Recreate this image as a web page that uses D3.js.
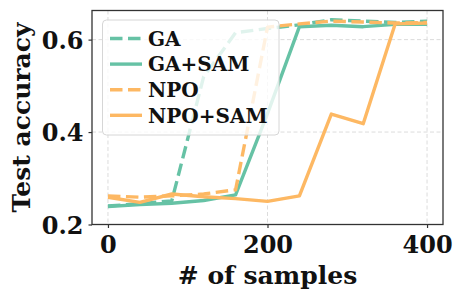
<!DOCTYPE html>
<html>
<head>
<meta charset="utf-8">
<script src="https://cdn.jsdelivr.net/npm/d3@7"></script>
<style>
  body { margin: 0; background: #fff; }
  text { font-family: "DejaVu Serif", serif; font-weight: bold; fill: #111; }
</style>
</head>
<body>
<script>
const width = 463;
const height = 299;

// data
const samples = [0, 40, 80, 120, 160, 200, 240, 280, 320, 360, 400];
const gaAcc     = [0.240, 0.245, 0.251, 0.520, 0.615, 0.624, 0.632, 0.643, 0.640, 0.637, 0.640];
const gaSamAcc  = [0.239, 0.243, 0.246, 0.252, 0.264, 0.440, 0.628, 0.631, 0.628, 0.633, 0.633];
const npoAcc    = [0.262, 0.259, 0.262, 0.266, 0.275, 0.627, 0.634, 0.640, 0.638, 0.636, 0.637];
const npoSamAcc = [0.259, 0.248, 0.266, 0.260, 0.256, 0.250, 0.262, 0.439, 0.418, 0.634, 0.636];
const seriesNames = ['GA', 'GA+SAM', 'NPO', 'NPO+SAM'];
const xTicks = [0, 200, 400];
const yTicks = [0.2, 0.4, 0.6];

const teal = '#66c2a5';
const orange = '#fdb863';

const series = [
  {name: seriesNames[0], values: gaAcc, color: teal, dashed: true},
  {name: seriesNames[1], values: gaSamAcc, color: teal, dashed: false},
  {name: seriesNames[2], values: npoAcc, color: orange, dashed: true},
  {name: seriesNames[3], values: npoSamAcc, color: orange, dashed: false}
];

const margin = {left: 92, right: 20, top: 10.5, bottom: 74.5};

const x = d3.scaleLinear()
  .domain([-20, 420])
  .range([margin.left, width - margin.right]);
const y = d3.scaleLinear()
  .domain([0.2, 0.663])
  .range([height - margin.bottom, margin.top]);

const svg = d3.create('svg')
  .attr('width', width)
  .attr('height', height);
document.body.appendChild(svg.node());

// grid
svg.append('g').selectAll('line')
  .data(xTicks)
  .enter().append('line')
  .attr('x1', d => x(d)).attr('x2', d => x(d))
  .attr('y1', margin.top).attr('y2', height - margin.bottom)
  .attr('stroke', '#dcdcdc').attr('stroke-width', 1)
  .attr('stroke-dasharray', '4,2.5');
svg.append('g').selectAll('line')
  .data(yTicks)
  .enter().append('line')
  .attr('x1', margin.left).attr('x2', width - margin.right)
  .attr('y1', d => y(d)).attr('y2', d => y(d))
  .attr('stroke', '#dcdcdc').attr('stroke-width', 1)
  .attr('stroke-dasharray', '4,2.5');

const line = d3.line()
  .x((d, i) => x(samples[i]))
  .y(d => y(d));

svg.append('g').selectAll('path')
  .data(series)
  .enter().append('path')
  .attr('d', d => line(d.values))
  .attr('fill', 'none')
  .attr('stroke', d => d.color)
  .attr('stroke-width', 3.4)
  .attr('stroke-linejoin', 'round')
  .attr('stroke-dasharray', d => d.dashed ? '12.5,5.5' : null);

// axes
const xAxis = svg.append('g')
  .attr('transform', `translate(0,${height - margin.bottom})`)
  .call(d3.axisBottom(x).tickValues(xTicks).tickSize(3.5).tickPadding(8));
const yAxis = svg.append('g')
  .attr('transform', `translate(${margin.left},0)`)
  .call(d3.axisLeft(y).tickValues(yTicks).tickFormat(d3.format('.1f')).tickSize(3.5).tickPadding(5));
[xAxis, yAxis].forEach(a => {
  a.select('.domain').remove();
  a.selectAll('line').attr('stroke', '#333').attr('stroke-width', 1.2);
  a.selectAll('text').attr('font-size', 24).attr('font-family', 'DejaVu Serif').attr('font-weight', 'bold').attr('fill', '#111');
});
yAxis.selectAll('text').attr('dy', '0.36em');

svg.append('rect')
  .attr('x', margin.left).attr('y', margin.top)
  .attr('width', width - margin.right - margin.left)
  .attr('height', height - margin.bottom - margin.top)
  .attr('fill', 'none').attr('stroke', '#333').attr('stroke-width', 1.3);

// labels
svg.append('text')
  .attr('x', (margin.left + width - margin.right) / 2)
  .attr('y', 284)
  .attr('text-anchor', 'middle')
  .attr('font-size', 25)
  .text('# of samples');
svg.append('text')
  .attr('transform', `translate(30,${(margin.top + height - margin.bottom) / 2}) rotate(-90)`)
  .attr('text-anchor', 'middle')
  .attr('font-size', 25)
  .text('Test accuracy');

// legend
const legend = svg.append('g');
legend.append('rect')
  .attr('x', 102.5).attr('y', 20)
  .attr('width', 176.5).attr('height', 115)
  .attr('rx', 4)
  .attr('fill', 'white').attr('fill-opacity', 0.8)
  .attr('stroke', '#d6d6d6').attr('stroke-width', 1);
const rows = legend.selectAll('g.row')
  .data(series)
  .enter().append('g')
  .attr('class', 'row')
  .attr('transform', (d, i) => `translate(0,${38.5 + i * 25.6})`);
rows.append('line')
  .attr('x1', 110).attr('x2', 142)
  .attr('stroke', d => d.color)
  .attr('stroke-width', 3.4)
  .attr('stroke-dasharray', d => d.dashed ? '12.5,5.5' : null);
rows.append('text')
  .attr('x', 148)
  .attr('dy', '0.36em')
  .attr('font-size', 20)
  .text(d => d.name);
</script>
</body>
</html>
